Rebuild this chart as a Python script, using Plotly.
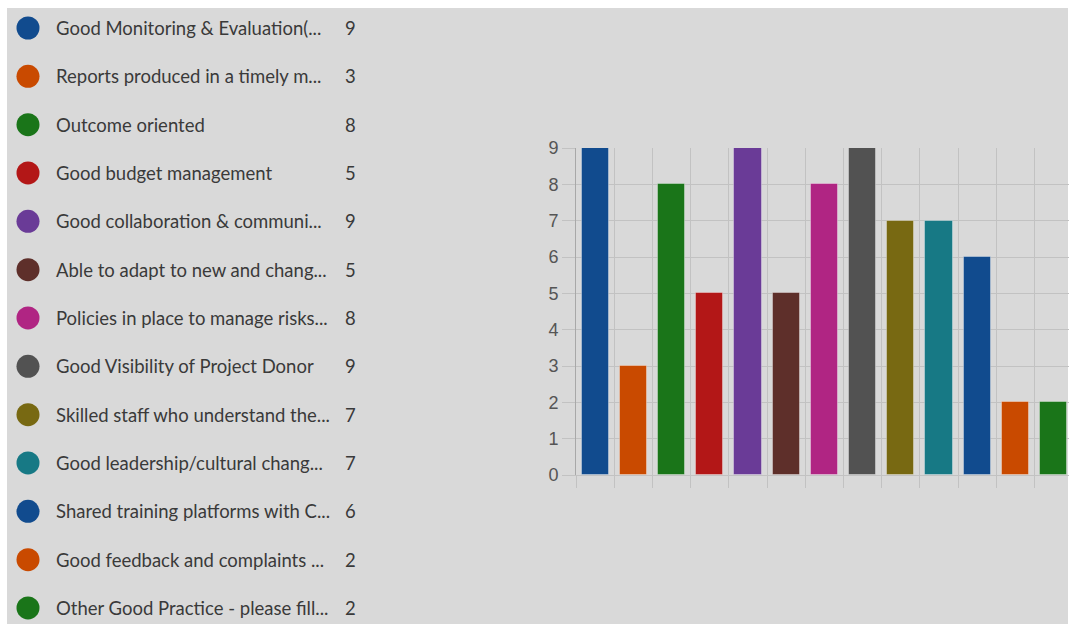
import plotly.graph_objects as go

# Survey responses: good practice categories and their counts
labels = [
    "Good Monitoring & Evaluation(...",
    "Reports produced in a timely m...",
    "Outcome oriented",
    "Good budget management",
    "Good collaboration & communi...",
    "Able to adapt to new and chang...",
    "Policies in place to manage risks...",
    "Good Visibility of Project Donor",
    "Skilled staff who understand the...",
    "Good leadership/cultural chang...",
    "Shared training platforms with C...",
    "Good feedback and complaints ...",
    "Other Good Practice - please fill...",
]
counts = [9, 3, 8, 5, 9, 5, 8, 9, 7, 7, 6, 2, 2]
colors = [
    "#114b8e", "#c94a00", "#1a7519", "#b31717", "#6a3b97", "#5e2f2a",
    "#b02583", "#525252", "#786912", "#177985", "#114b8e", "#c94a00",
    "#1a7519",
]

W, H = 1069, 624
BG = "#d9d9d9"
GRID = "#c2c2c2"
TEXT = "#3a3a3a"

# plot area in pixels
px_left, px_right = 576, 1069
px_top, px_bottom = 148, 475

idx = list(range(len(counts)))

fig = go.Figure()

# bars
fig.add_trace(go.Bar(
    x=idx, y=counts,
    width=0.71,
    marker=dict(color=colors, line=dict(color="rgba(255,255,255,0.35)", width=1)),
    xaxis="x", yaxis="y",
    showlegend=False, hoverinfo="x+y",
))

# legend list: coloured dots
fig.add_trace(go.Scatter(
    x=[28] * len(idx), y=idx,
    mode="markers",
    marker=dict(color=colors, size=23, line=dict(width=0)),
    xaxis="x2", yaxis="y2",
    showlegend=False, hoverinfo="skip",
))

annotations = []
for i, (lab, c) in enumerate(zip(labels, counts)):
    annotations.append(dict(
        x=54, y=i, xref="x2", yref="y2", text=lab, showarrow=False,
        xanchor="left", yanchor="middle",
        font=dict(family="Lato", size=18.5, color=TEXT),
    ))
    annotations.append(dict(
        x=343, y=i, xref="x2", yref="y2", text=str(c), showarrow=False,
        xanchor="left", yanchor="middle",
        font=dict(family="Lato", size=18.5, color=TEXT),
    ))

row0, row_step = 28, 48.33
y2_top = -row0 / row_step
y2_bot = (H - row0) / row_step

shapes = [
    # grey panel, leaving thin white strips at top and left
    dict(type="rect", xref="paper", yref="paper",
         x0=7 / W, x1=1068 / W, y0=0, y1=1 - 8 / H,
         fillcolor=BG, line=dict(width=0), layer="below"),
]

fig.update_layout(
    width=W, height=H,
    margin=dict(l=0, r=0, t=0, b=0, autoexpand=False),
    paper_bgcolor="white",
    plot_bgcolor="rgba(0,0,0,0)",
    shapes=shapes,
    annotations=annotations,
    bargap=0,
    xaxis=dict(
        domain=[px_left / W, px_right / W],
        range=[-0.5, 12.4],
        tickvals=[i - 0.5 for i in range(len(counts) + 1)],
        showticklabels=False,
        ticks="outside", ticklen=12, tickcolor=GRID, tickwidth=1,
        showgrid=True, gridcolor=GRID, gridwidth=1,
        showline=True, linecolor=GRID, linewidth=1,
        zeroline=False, fixedrange=True, automargin=False,
    ),
    yaxis=dict(
        domain=[1 - px_bottom / H, 1 - px_top / H],
        range=[0, 9], dtick=1,
        ticks="outside", ticklen=13, tickcolor=GRID, tickwidth=1,
        showgrid=True, gridcolor=GRID, gridwidth=1,
        showline=True, linecolor="#a8a8a8", linewidth=1,
        zeroline=False, automargin=False,
        tickfont=dict(family="Liberation Sans", size=18, color="#555555"),
        fixedrange=True,
    ),
    xaxis2=dict(domain=[0, 1], range=[0, W], visible=False, anchor="y2",
                fixedrange=True),
    yaxis2=dict(domain=[0, 1], range=[y2_bot, y2_top], visible=False,
                anchor="x2", fixedrange=True),
)

fig.write_html(
    "out.html",
    config={"displayModeBar": False},
    post_script="document.body.style.margin='0';",
)
